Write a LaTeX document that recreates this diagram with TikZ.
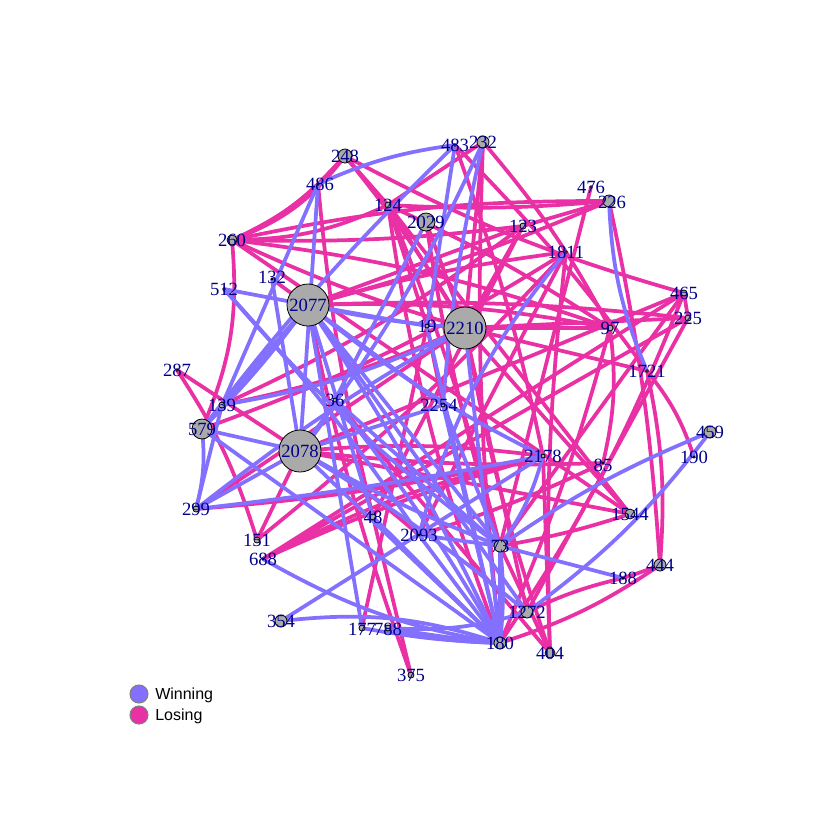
\documentclass[tikz,border=0pt]{standalone}
\usepackage{fontspec}
\setmainfont{Liberation Serif}
\newfontfamily\legfont{Liberation Sans}
\definecolor{wincol}{RGB}{132,112,255}
\definecolor{loscol}{RGB}{233,48,164}
\definecolor{vgray}{RGB}{170,170,170}
\definecolor{labcol}{RGB}{0,0,139}
\tikzset{
  win/.style={draw=wincol,line width=2.8pt},
  los/.style={draw=loscol,line width=2.8pt},
  vert/.style={circle,draw=black,fill=vgray,line width=0.6pt,inner sep=0pt},
  lab/.style={text=labcol,font=\fontsize{14}{14}\selectfont,inner sep=0pt},
  legdot/.style={circle,draw=gray,line width=0.8pt,minimum size=13.5pt,inner sep=0pt},
  legtxt/.style={font=\legfont\fontsize{12}{12}\selectfont,anchor=west,inner sep=0pt}
}
\begin{document}
\begin{tikzpicture}[x=0.75pt,y=-0.75pt]
\useasboundingbox (0,0) rectangle (840,840);
\fill[white] (0,0) rectangle (840,840);
% vertex positions
\foreach \n/\x/\y in {248/345/156,483/455/145,232/483/142,486/318/184,124/388/205,
  2029/426/222,476/591/187,226/609/201,123/523/226,260/232/240,1811/566/252,
  132/272/279,512/224/289,2077/308/305,19/427/326,2210/465/328,465/684/293,
  225/688/318,97/610/328,1721/647/371,287/177/370,139/222/405,36/335/400,
  2254/443/405,579/202/429,2078/300/451,2178/543/456,459/710/432,85/603/463,
  190/694/457,299/196/509,48/373/517,1544/630/514,151/257/540,2093/419/535,
  73/500/546,688/263/559,444/660/565,188/623/578,1272/527/612,354/281/621,
  177/362/628,788/388/628,180/500/643,404/550/653,375/411/675}
  {\coordinate (c\n) at (\x,\y);}
% losing edges
\foreach \a/\b/\c in {248/260/12,248/260/16,248/486/0,248/124/0,248/2210/4,248/465/-6,
  486/260/10,486/48/-4,232/124/0,232/2210/0,232/97/6,232/180/-4,483/1721/4,483/2178/4,
  124/260/12,124/2210/0,124/73/4,124/180/-6,124/97/4,124/226/-4,124/1544/0,124/19/0,
  2029/2210/0,2029/73/-4,226/123/0,226/260/-6,226/2077/4,476/73/0,226/444/4,
  123/260/4,123/2077/0,123/2210/0,123/139/6,123/48/0,1811/2077/-4,1811/2093/0,1811/151/4,
  465/2078/0,465/73/0,465/180/6,225/2210/0,225/2077/-4,225/688/0,225/1272/0,225/465/0,
  97/2210/0,97/2077/-6,97/180/4,1721/444/8,190/1721/-10,85/97/-10,85/2093/4,
  287/2078/0,287/151/8,139/2210/-6,2078/151/0,2078/2178/6,2078/1544/0,2078/85/-4,
  260/2210/-4,260/579/14,260/97/6,260/1544/0,299/2210/0,299/2178/-4,688/465/0,688/2178/4,688/2178/7,
  48/375/0,375/2077/4,36/404/0,2210/404/-4,2210/1272/0,2210/1544/0,73/1544/-4,73/404/0,
  180/444/-8,2093/2078/-6,1272/188/6,188/444/-2,404/2178/0,404/1811/4,2254/19/0,
  132/2254/0,2210/1721/0,1811/579/6,19/177/0}
  {\draw[los] (c\a) to[bend left=\c] (c\b);}
% winning edges
\foreach \a/\b/\c in {486/483/8,486/2078/0,486/139/0,483/579/-4,483/19/0,232/2254/-4,232/2078/6,
  2029/36/0,512/2077/0,512/73/-6,512/2093/4,2077/139/0,2077/579/4,2077/2254/0,2077/73/0,
  2077/180/4,2077/2178/-6,2077/1272/0,2077/48/0,2077/2210/-4,2077/19/0,2210/180/0,2210/139/8,
  2210/299/-4,1811/2093/-12,226/1721/-10,2078/579/0,2078/73/-4,2078/180/0,2078/1272/4,
  2078/299/0,2078/2254/0,2078/36/-8,579/299/10,579/180/0,139/299/0,688/180/-10,354/180/12,
  354/2178/0,177/180/-4,788/180/-2,788/180/-6,177/2077/0,788/1272/-10,73/180/0,73/180/6,73/188/0,
  73/2178/-10,73/459/6,1272/459/-8,48/180/0,2093/180/0,2093/73/0,36/73/0,36/180/4,19/180/0,
  2254/180/0,2254/73/0,132/2078/0,299/2178/-2}
  {\draw[win] (c\a) to[bend left=\c] (c\b);}
% vertices and labels
\foreach \n/\d in {248/10.5,483/2,232/9,486/2,124/4.5,2029/13.5,476/2,226/9,123/4.5,260/7.5,
  1811/2,132/1.5,512/2,2077/31.5,19/3,2210/31.5,465/4.5,225/4.5,97/4.5,1721/2,287/2,139/4.5,
  36/3,2254/3,579/15,2078/31.5,2178/3,459/9,85/1.5,190/1.5,299/4.5,48/4.5,1544/7.5,151/4.5,
  2093/1.5,73/9,688/1.5,444/9,188/1.5,1272/9,354/9,177/4.5,788/4.5,180/9,404/7.5,375/4.5}
  {\node[vert,minimum size=\d pt] (v\n) at (c\n) {};}
\foreach \n/\t/\dx/\dy in {248/248/0/0,483/483/0/0,232/232/0/0,486/486/2/0,124/124/0/0,
  2029/2029/0/0,476/476/0/0,226/226/3/1,123/123/0/0,260/260/0/0,1811/1811/0/0,132/132/0/-2,
  512/512/0/0,2077/2077/0/0,19/19/0/0,2210/2210/0/0,465/465/0/0,225/225/0/0,97/97/0/0,
  1721/1721/0/0,287/287/0/0,139/139/0/0,36/36/0/0,2254/2254/-4/0,579/579/0/0,2078/2078/0/0,
  2178/2178/0/0,459/459/0/0,85/85/0/2,190/190/0/0,299/299/0/0,48/48/0/0,1544/1544/0/0,
  151/151/0/0,2093/2093/0/0,73/73/0/0,688/688/0/0,444/444/0/0,188/188/0/0,1272/1272/0/0,
  354/354/0/0,177/177/0/1,788/788/0/1,180/180/0/0,404/404/0/0,375/375/0/0}
  {\node[lab] (l\n) at ([shift={(\dx,\dy)}]c\n) {\t};}
% legend
\node[legdot,fill=wincol] (lw) at (139,694) {};
\node[legdot,fill=loscol] (ll) at (139,715) {};
\node[legtxt] (tw) at (155,695) {Winning};
\node[legtxt] (tl) at (155,716) {Losing};
\end{tikzpicture}
\end{document}
